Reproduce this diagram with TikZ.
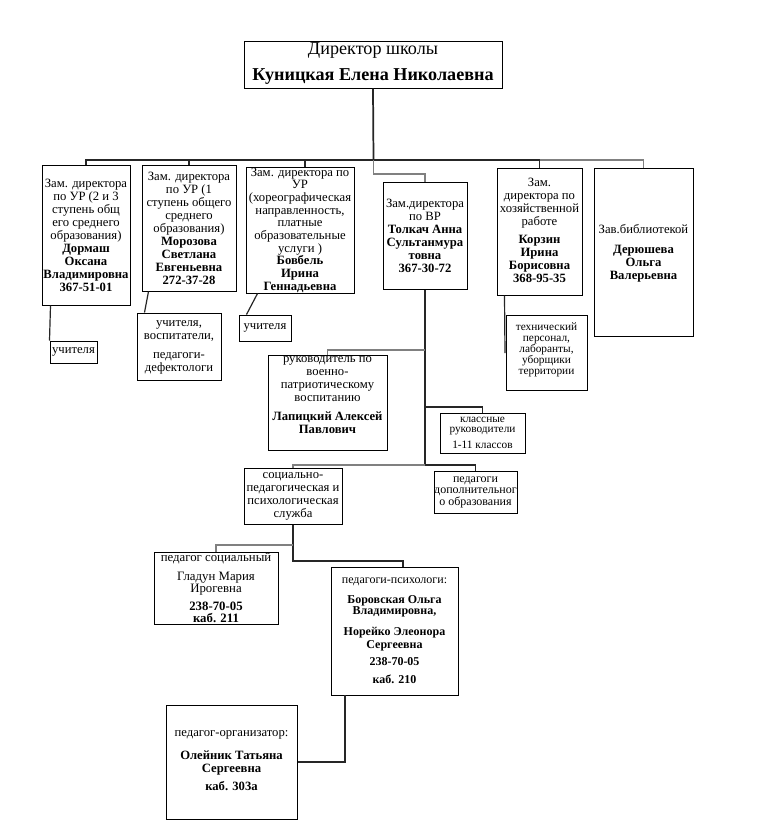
\documentclass[tikz,border=0pt]{standalone}
\usepackage{fontspec}
\setmainfont{Liberation Serif}
\usetikzlibrary{fit,calc}
\begin{document}
\begin{tikzpicture}[x=0.75pt,y=-0.75pt,
  box/.style={draw, line width=0.75pt, inner sep=0pt},
  txt/.style={align=center, inner sep=0pt, font=\fontsize{9.5}{9.75}\selectfont},
  wire/.style={line width=0.9pt, draw=black!85},
  gwire/.style={line width=0.9pt, draw=black!50}]
\fill[white] (0,0) rectangle (780,840);
\useasboundingbox (0,0) rectangle (780,840);

% boxes
\node[box, fit={(244,41) (502,88)}] (dir) {};
\node[box, fit={(42,165) (130,305)}] (dor) {};
\node[box, fit={(142,165) (236,291)}] (mor) {};
\node[box, fit={(246,167) (354,293)}] (bob) {};
\node[box, fit={(383,182) (467,289)}] (tol) {};
\node[box, fit={(497,168) (582,295)}] (kor) {};
\node[box, fit={(594,168) (693,336)}] (lib) {};
\node[box, fit={(50,341) (97,363)}] (uch1) {};
\node[box, fit={(137,313) (221,380)}] (tea) {};
\node[box, fit={(239,315) (291,341)}] (uch3) {};
\node[box, fit={(506,315) (587,390)}] (tech) {};
\node[box, fit={(268,355) (387,450)}] (mil) {};
\node[box, fit={(440,413) (525,453)}] (cls) {};
\node[box, fit={(244,468) (342,524)}] (soc) {};
\node[box, fit={(434,471) (517,513)}] (add) {};
\node[box, fit={(154,552) (278,624)}] (gla) {};
\node[box, fit={(331,567) (458,695)}] (psy) {};
\node[box, fit={(166,705) (297,819)}] (org) {};

% texts
\node[txt, font=\fontsize{13.6}{19.5}\selectfont] (dirt) at (373,64) {Директор школы\\\textbf{Куницкая Елена Николаевна}};
\node[txt] (dort) at (86,235) {Зам. директора\\по УР (2 и 3\\ступень общ\\его среднего\\образования)\\\textbf{Дормаш}\\\textbf{Оксана}\\\textbf{Владимировна}\\\textbf{367-51-01}};
\node[txt] (mort) at (189,228) {Зам. директора\\по УР (1\\ступень общего\\среднего\\образования)\\\textbf{Морозова}\\\textbf{Светлана}\\\textbf{Евгеньевна}\\\textbf{272-37-28}};
\node[txt, font=\fontsize{9.5}{9.5}\selectfont] (bobt) at (300,230) {Зам. директора по\\УР\\(хореографическая\\направленность,\\платные\\образовательные\\услуги )\\\textbf{Бовбель}\\\textbf{Ирина}\\\textbf{Геннадьевна}};
\node[txt] (tolt) at (425,235.5) {Зам.директора\\по ВР\\\textbf{Толкач Анна}\\\textbf{Сультанмура}\\\textbf{товна}\\\textbf{367-30-72}};
\node[txt] (kort) at (539.5,230.5) {Зам.\\директора по\\хозяйственной\\работе\\[3.75pt]\textbf{Корзин}\\\textbf{Ирина}\\\textbf{Борисовна}\\\textbf{368-95-35}};
\node[txt] (libt) at (643.5,253.5) {Зав.библиотекой\\[5pt]\textbf{Дерюшева}\\\textbf{Ольга}\\\textbf{Валерьевна}};
\node[txt] (uch1t) at (73.5,352) {учителя};
\node[txt] (teat) at (179,347.5) {учителя,\\воспитатели,\\[4.5pt]педагоги-\\дефектологи};
\node[txt] (uch3t) at (265,328) {учителя};
\node[txt, font=\fontsize{8.5}{8.25}\selectfont] (techt) at (546.5,350) {технический\\персонал,\\лаборанты,\\уборщики\\территории};
\node[txt] (milt) at (327.5,395) {руководитель по\\военно-\\патриотическому\\воспитанию\\[4.5pt]\textbf{Лапицкий Алексей}\\\textbf{Павлович}};
\node[txt, font=\fontsize{8.5}{7.5}\selectfont] (clst) at (482.5,433) {классные\\руководители\\[5pt]1-11 классов};
\node[txt] (soct) at (293,496) {социально-\\педагогическая и\\психологическая\\служба};
\node[txt, font=\fontsize{9}{8.6}\selectfont] (addt) at (475.5,492) {педагоги\\дополнительног\\о образования};
\node[txt, font=\fontsize{9.6}{9}\selectfont] (glat) at (216,588) {педагог социальный\\[5pt]Гладун Мария\\Ирогевна\\[5pt]\textbf{238-70-05}\\\textbf{каб. 211}};
\node[txt, font=\fontsize{9}{8}\selectfont] (psyt) at (394.5,631) {педагоги-психологи:\\[7pt]\textbf{Боровская Ольга}\\\textbf{Владимировна,}\\[7pt]\textbf{Норейко Элеонора}\\[1.75pt]\textbf{Сергеевна}\\[4.75pt]\textbf{238-70-05}\\[5.5pt]\textbf{каб. 210}};
\node[txt] (orgt) at (231.5,760.5) {педагог-организатор:\\[8pt]\textbf{Олейник Татьяна}\\\textbf{Сергеевна}\\[3.75pt]\textbf{каб. 303а}};

% junction coordinates
\coordinate (j0) at (373.5,160);
\coordinate (jb) at (305,160);
\coordinate (kend) at (505,353);
\coordinate (tb) at (425,465);
\coordinate (tm) at (425,350);
\coordinate (tc) at (425,407);
\coordinate (sj) at (293,561);
\coordinate (sg) at (293,545);
\coordinate (ps) at (403,567);
\coordinate (pb) at (345,695);

% connectors
\draw[wire, line width=1.3pt] (dir.south) -- (j0);
\draw[wire, line width=1.3pt] (j0) -- (j0 -| dor.north) -- (dor.north);
\draw[wire] (mor.north |- j0) -- (mor.north);
\draw[wire] (jb) -- (jb |- bob.north);
\draw[wire, line width=1.3pt] (j0) -- (j0 -| kor.north) -- (kor.north);
\draw[gwire] (j0 -| kor.north) -- (j0 -| lib.north) -- (lib.north);
\draw[gwire] (j0) -- ++(0,14) -| (tol.north);
\draw[wire] ($(dor.south west)+(9,0)$) -- (uch1.north west);
\draw[wire] ($(mor.south west)+(7,0)$) -- ($(tea.north west)+(8,0)$);
\draw[wire] ($(bob.south west)+(12,0)$) -- ($(uch3.north west)+(8,0)$);
\draw[wire] ($(kor.south west)+(8,0)$) -- (kend);
\draw[wire] (tol.south) -- (tb);
\draw[gwire] (tm) -| (mil.north);
\draw[wire] (tc) -| (cls.north);
\draw[wire] (tb) -| (add.north);
\draw[gwire] (tb) -| (soc.north);
\draw[wire] (soc.south) -- (sj) -| (ps);
\draw[gwire] (sg) -| (gla.north);
\draw[wire] (pb) |- (org.east);
\end{tikzpicture}
\end{document}
